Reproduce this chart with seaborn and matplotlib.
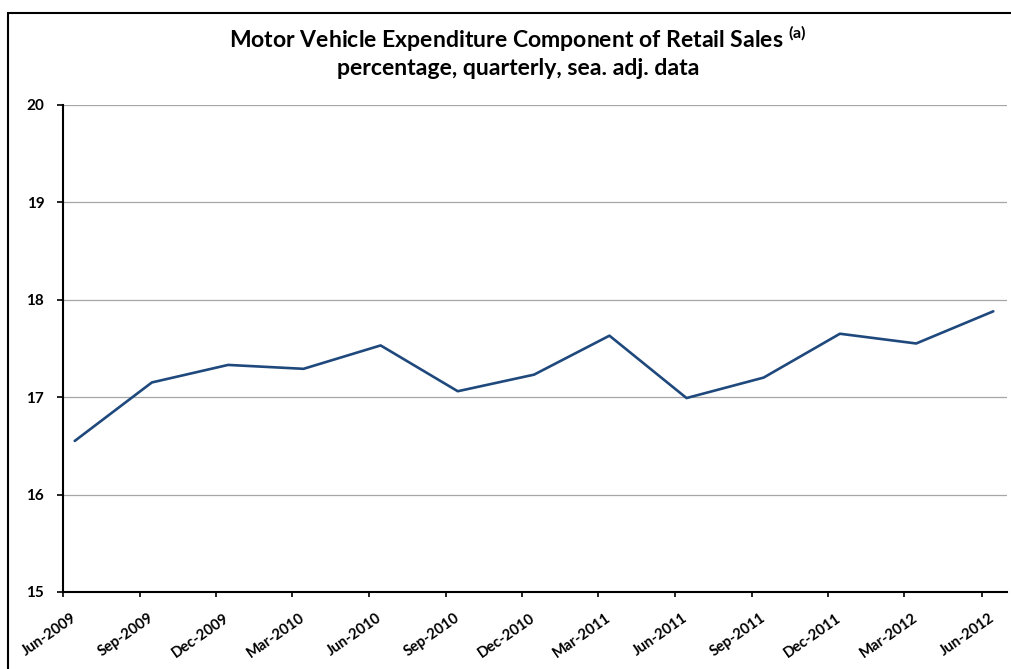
import matplotlib
matplotlib.use("Agg")
import matplotlib.pyplot as plt
from matplotlib.patches import Rectangle
from matplotlib.transforms import ScaledTranslation
import pandas as pd
import seaborn as sns

# Quarterly observations
quarters = ["Jun-2009", "Sep-2009", "Dec-2009", "Mar-2010", "Jun-2010",
            "Sep-2010", "Dec-2010", "Mar-2011", "Jun-2011", "Sep-2011",
            "Dec-2011", "Mar-2012", "Jun-2012"]
share = [16.55, 17.15, 17.33, 17.29, 17.53, 17.06, 17.23, 17.63,
         16.99, 17.20, 17.65, 17.55, 17.88]
y_ticks = [15, 16, 17, 18, 19, 20]

month_start = pd.to_datetime(quarters, format="%b-%Y")
obs_date = month_start + pd.Timedelta(days=14)
df = pd.DataFrame({"date": obs_date, "share": share})

sns.set_theme(style="white")
plt.rcParams["font.family"] = ["Lato", "DejaVu Sans"]
plt.rcParams["mathtext.fontset"] = "custom"
plt.rcParams["mathtext.rm"] = "Lato"
plt.rcParams["mathtext.bf"] = "Lato:bold"

W, H = 1011, 669
fig = plt.figure(figsize=(W / 100, H / 100), dpi=100)
fig.patch.set_facecolor("white")

ax = fig.add_axes([63 / W, 1 - 592 / H, (1006.7 - 63) / W, (592 - 104.7) / H])
ax.set_facecolor("white")

sns.lineplot(data=df, x="date", y="share", ax=ax, color="#1F497D",
             linewidth=1.9, legend=False)

ax.set_xlim(month_start[0], pd.Timestamp("2012-07-01"))
ax.set_ylim(y_ticks[0], y_ticks[-1])
ax.set_yticks(y_ticks)
ax.set_yticklabels([str(v) for v in y_ticks], fontsize=11, fontweight="bold")
ax.set_xticks(month_start)
ax.set_xticklabels(quarters, rotation=35, ha="right", va="baseline",
                   rotation_mode="anchor", fontsize=10.6, fontweight="bold")
ax.set_xlabel("")
ax.set_ylabel("")

ax.yaxis.grid(True, color="#A6A6A6", linewidth=0.9)
ax.xaxis.grid(False)
ax.set_axisbelow(True)

for side in ("top", "right"):
    ax.spines[side].set_visible(False)
for side in ("left", "bottom"):
    ax.spines[side].set_color("black")
    ax.spines[side].set_linewidth(1.5)

ax.tick_params(axis="y", which="major", direction="out", length=4, width=1.2,
               color="black", pad=9.5, left=True, labelcolor="black")
ax.tick_params(axis="x", which="major", direction="out", length=3.5, width=1.2,
               color="black", pad=16.5, bottom=True, labelcolor="black")

shift = ScaledTranslation(14 / 100, 0, fig.dpi_scale_trans)
for lbl in ax.get_xticklabels():
    lbl.set_transform(lbl.get_transform() + shift)

# Titles
cx = 518 / W
fig.text(cx, 1 - 48.3 / H,
         r"Motor Vehicle Expenditure Component of Retail Sales $^{\mathbf{(a)}}$",
         ha="center", va="baseline", fontsize=16.6, fontweight="bold",
         color="black")
fig.text(cx, 1 - 75 / H, "percentage, quarterly, sea. adj. data",
         ha="center", va="baseline", fontsize=16.6, fontweight="bold",
         color="black")

# Chart-area border
fig.add_artist(Rectangle((7.5 / W, -0.1), 1.2, 1.1 - 12.5 / H,
                         transform=fig.transFigure, fill=False,
                         edgecolor="black", linewidth=1.5))

fig.savefig("out.png", dpi=100, facecolor="white")
